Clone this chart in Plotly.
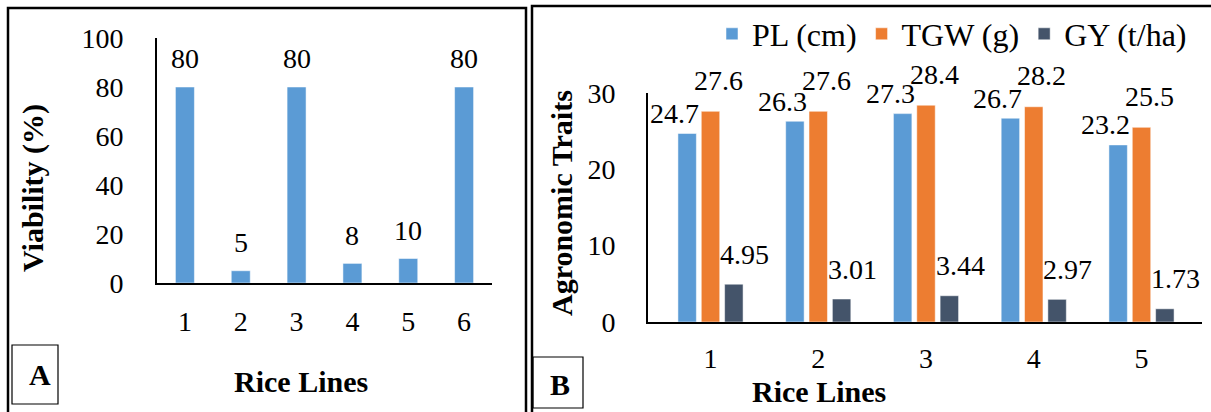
import plotly.graph_objects as go

W, H = 1211, 412

# ---- data ----
lines_a = ["1", "2", "3", "4", "5", "6"]
viability = [80, 5, 80, 8, 10, 80]

lines_b = ["1", "2", "3", "4", "5"]
pl_cm = [24.7, 26.3, 27.3, 26.7, 23.2]
tgw_g = [27.6, 27.6, 28.4, 28.2, 25.5]
gy_tha = [4.95, 3.01, 3.44, 2.97, 1.73]
series_names = ["PL (cm)", "TGW (g)", "GY (t/ha)"]

a_ticks = [0, 20, 40, 60, 80, 100]
b_ticks = [0, 10, 20, 30]

FONT = "Liberation Serif, Times New Roman, Liberation Sans, sans-serif"
BLUE, ORANGE, SLATE = "#5B9BD5", "#ED7D31", "#44546A"


def px(x):
    return x / W


def py(y):
    return 1 - y / H


fig = go.Figure()

fig.add_trace(go.Bar(
    x=lines_a, y=viability, xaxis="x", yaxis="y", width=0.34,
    marker=dict(color=BLUE, line=dict(color="rgba(255,255,255,0.5)", width=1)),
    showlegend=False, hoverinfo="x+y"))

b_series = [pl_cm, tgw_g, gy_tha]
b_colors = [BLUE, ORANGE, SLATE]
for name, vals, col in zip(series_names, b_series, b_colors):
    fig.add_trace(go.Bar(
        x=lines_b, y=vals, name=name, xaxis="x2", yaxis="y2",
        marker=dict(color=col, line=dict(color="rgba(255,255,255,0.5)", width=1))))

annotations = []
# data labels panel A
for i, v in enumerate(viability):
    annotations.append(dict(x=i, y=v, xref="x", yref="y", text=str(v), showarrow=False,
                            xanchor="center", yanchor="middle", yshift=28,
                            font=dict(family=FONT, size=28, color="black")))
# data labels panel B (per-series offsets, Excel-like placement)
label_shift = [(-36, 20), (8, 31), (34, 30)]
for vals, (xs, ys) in zip(b_series, label_shift):
    for i, v in enumerate(vals):
        annotations.append(dict(x=i, y=v, xref="x2", yref="y2",
                                text=f"{v:g}" if v >= 10 else f"{v:.2f}",
                                showarrow=False, xanchor="center", yanchor="middle",
                                xshift=xs, yshift=ys,
                                font=dict(family=FONT, size=28, color="black")))

bold = dict(family=FONT, size=30, color="black")


def paper_text(x, y, text, angle=0, font=bold):
    return dict(x=px(x), y=py(y), xref="paper", yref="paper", text=text, textangle=angle,
                xanchor="center", yanchor="middle", showarrow=False, font=font)


annotations += [
    paper_text(33, 188, "<b>Viability (%)</b>", -90),
    paper_text(561, 203, "<b>Agronomic Traits</b>", -90),
    paper_text(301, 381, "<b>Rice Lines</b>"),
    paper_text(819, 391, "<b>Rice Lines</b>"),
    paper_text(40, 374, "<b>A</b>"),
    paper_text(560, 384, "<b>B</b>"),
]

shapes = [
    dict(type="rect", xref="paper", yref="paper", x0=px(8), y0=py(430), x1=px(526), y1=py(8),
         line=dict(color="black", width=2.5)),
    dict(type="rect", xref="paper", yref="paper", x0=px(532), y0=py(430), x1=px(1225), y1=py(6),
         line=dict(color="black", width=2.5)),
    dict(type="rect", xref="paper", yref="paper", x0=px(12), y0=py(404), x1=px(58), y1=py(345),
         line=dict(color="black", width=1.2)),
    dict(type="rect", xref="paper", yref="paper", x0=px(533), y0=py(408), x1=px(583), y1=py(357),
         line=dict(color="black", width=1.2)),
]

tickfont = dict(family=FONT, size=28, color="black")
axis_common = dict(showline=True, linecolor="black", linewidth=2, showgrid=False,
                   zeroline=False, ticks="", tickfont=tickfont, fixedrange=True,
                   automargin=False)

fig.update_layout(
    width=W, height=H, margin=dict(l=0, r=0, t=0, b=0, autoexpand=False),
    paper_bgcolor="white", plot_bgcolor="rgba(0,0,0,0)",
    barmode="group", bargap=0.35, bargroupgap=0.21,
    font=dict(family=FONT, color="black"),
    xaxis=dict(domain=[px(157), px(492)], anchor="y", type="category",
               ticklabelstandoff=12, **axis_common),
    yaxis=dict(domain=[py(283), py(38)], anchor="x", range=[0, 100], tickvals=a_ticks,
               ticklabelstandoff=26, **axis_common),
    xaxis2=dict(domain=[px(648), px(1202)], anchor="y2", type="category",
                ticklabelstandoff=10, **axis_common),
    yaxis2=dict(domain=[py(322), py(93)], anchor="x2", range=[0, 30], tickvals=b_ticks,
                ticklabelstandoff=25, **axis_common),
    legend=dict(orientation="h", x=px(712), xanchor="left", y=py(34), yanchor="middle",
                font=dict(family=FONT, size=32, color="black"), bgcolor="rgba(0,0,0,0)",
                itemwidth=30, tracegroupgap=0),
    annotations=annotations, shapes=shapes,
)

fig.write_html(
    "out.html",
    config={"displayModeBar": False},
    post_script="document.documentElement.style.margin='0';document.body.style.margin='0';"
                "document.body.style.padding='0';document.body.style.overflow='hidden';",
)
